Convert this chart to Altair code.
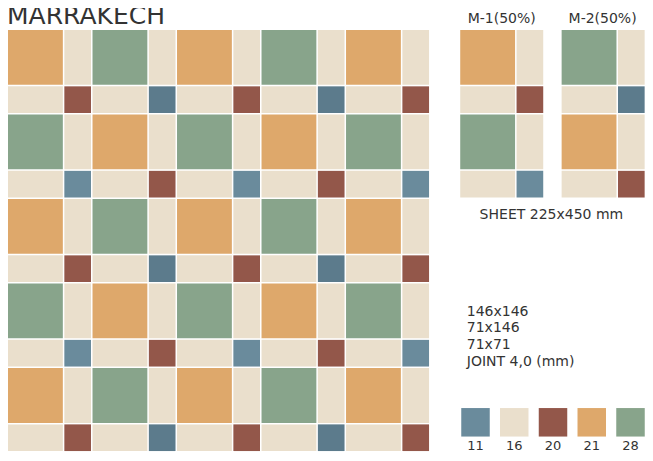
import altair as alt
import pandas as pd

# ---- tile sizes (mm) ----
BIG = 146
NARROW = 71
JOINT = 4
MODULE = BIG + JOINT + NARROW + JOINT  # 225 mm

# ---- colour codes ----
CODES = ["11", "11b", "16", "20", "21", "28"]
COLORS = ["#6A8B9C", "#5C7B8C", "#EADFCC", "#93574A", "#DEA86B", "#88A48B"]

# ---- sheets (1 module wide x 2 modules tall) ----
SHEET_BIG = {"M-1": ["21", "28"], "M-2": ["28", "21"]}
SHEET_SMALL = {"M-1": ["20", "11"], "M-2": ["11b", "20"]}
FILL = "16"

# ---- main panel layout: sheet used in each module column ----
MAIN_COLS = ["M-1", "M-2", "M-1", "M-2", "M-1"]
MAIN_ROWS = 5

# ---- side sheets ----
SIDE_SHEETS = ["M-1", "M-2"]
SIDE_X = [1204, 1474]  # mm offset of each sheet sample

# ---- legend ----
LEGEND_CODES = ["11", "16", "20", "21", "28"]
SIZES = ["146x146", "71x146", "71x71", "JOINT 4,0 (mm)"]

# ---- drawing frame ----
W, H = 637, 445
S = 0.3756            # px per mm
OX, OY = 8, 30        # page position of the tile origin
PAGE = 8              # page margin
TEXT = "#333333"
FONT = "DejaVu Sans"


def module_cells(sheet, r, x0, y0):
    big = SHEET_BIG[sheet][r % 2]
    small = SHEET_SMALL[sheet][r % 2]
    xs = [(x0, x0 + BIG), (x0 + BIG + JOINT, x0 + MODULE - JOINT)]
    ys = [(y0, y0 + BIG), (y0 + BIG + JOINT, y0 + MODULE - JOINT)]
    spec = [(0, 0, big), (1, 0, FILL), (0, 1, FILL), (1, 1, small)]
    return [
        {"x0": xs[i][0], "x1": xs[i][1], "y0": ys[j][0], "y1": ys[j][1], "code": c}
        for i, j, c in spec
    ]


rows = []
for c, sheet in enumerate(MAIN_COLS):
    for r in range(MAIN_ROWS):
        rows += module_cells(sheet, r, c * MODULE, r * MODULE)
for sx, sheet in zip(SIDE_X, SIDE_SHEETS):
    for r in range(2):
        rows += module_cells(sheet, r, sx, r * MODULE)
tiles_df = pd.DataFrame(rows)

xscale = alt.Scale(domain=[(PAGE - OX) / S, (PAGE + W - OX) / S], nice=False, zero=False)
yscale = alt.Scale(domain=[(PAGE - OY) / S, (PAGE + H - OY) / S], nice=False, zero=False, reverse=True)
cscale = alt.Scale(domain=CODES, range=COLORS)

tiles = alt.Chart(tiles_df).mark_rect(strokeWidth=0).encode(
    x=alt.X("x0:Q", scale=xscale, axis=None),
    x2="x1:Q",
    y=alt.Y("y0:Q", scale=yscale, axis=None),
    y2="y1:Q",
    color=alt.Color("code:N", scale=cscale, legend=None),
)

legend_df = pd.DataFrame({"code": LEGEND_CODES})
lscale = alt.Scale(domain=LEGEND_CODES, range=[467.5, 622.5], padding=0)
swatches = alt.Chart(legend_df).mark_square(size=28.5 * 28.5, opacity=1, strokeWidth=0).encode(
    x=alt.X("code:N", scale=lscale, axis=None),
    y=alt.value(414.3),
    color=alt.Color("code:N", scale=cscale, legend=None),
)
swatch_labels = alt.Chart(legend_df).mark_text(
    font=FONT, fontSize=13, color=TEXT, baseline="alphabetic", align="center"
).encode(
    x=alt.X("code:N", scale=lscale, axis=None),
    y=alt.value(441.5),
    text="code:N",
)


def label(txt, x, y, size, align="left"):
    return alt.Chart(pd.DataFrame({"t": [txt]})).mark_text(
        font=FONT, fontSize=size, color=TEXT, align=align, baseline="alphabetic"
    ).encode(x=alt.value(x), y=alt.value(y), text="t:N")


texts = [
    label("MARRAKECH", -1, 16, 25),
    label("M-1(50%)", 493.7, 15, 14, "center"),
    label("M-2(50%)", 594.6, 15, 14, "center"),
    label("SHEET 225x450 mm", 543.4, 211, 14, "center"),
]
for i, s in enumerate(SIZES):
    texts.append(label(s, 458.8, 307.5 + 16.9 * i, 14))

chart = alt.layer(tiles, swatches, swatch_labels, *texts).resolve_scale(
    x="independent", y="independent"
).properties(
    width=W, height=H, padding=0, autosize=alt.AutoSizeParams(type="none"),
    background="white",
).configure_view(stroke=None)

chart.save("out.html", embed_options={"renderer": "svg", "actions": False})
